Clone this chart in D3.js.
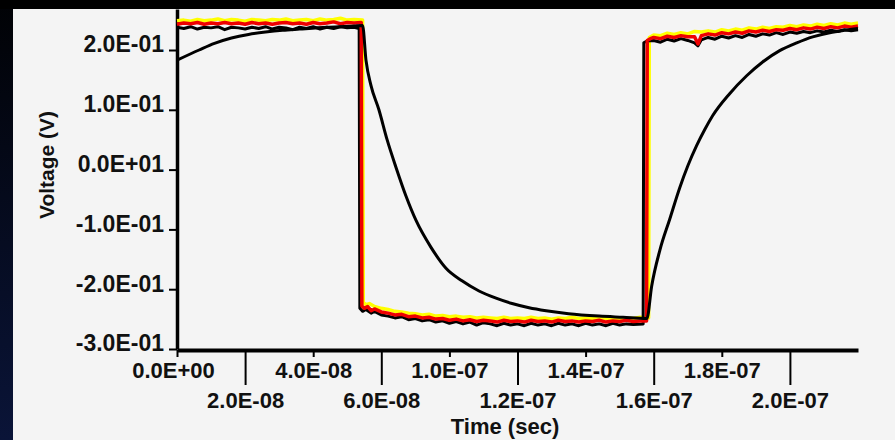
<!DOCTYPE html>
<html>
<head>
<meta charset="utf-8">
<script src="https://cdn.jsdelivr.net/npm/d3@7"></script>
<style>
  body { margin: 0; background: #000; }
  svg { display: block; }
  .axis text { font-family: "Liberation Sans", Arial, Helvetica, sans-serif; fill: #111; }
  .title { font-family: "Liberation Sans", Arial, Helvetica, sans-serif; fill: #111; }
</style>
</head>
<body>
<script>
// time in ns, voltage in V

// x ticks: every 20 ns, labels copied as printed on the chart
var xTicks = [0, 20, 40, 60, 80, 100, 120, 140, 160, 180]
var xTickLabels = ["0.0E+00", "2.0E-08", "4.0E-08", "6.0E-08", "1.0E-07",
                   "1.2E-07", "1.4E-07", "1.6E-07", "1.8E-07", "2.0E-07"]

var yTicks = [0.2, 0.1, 0.0, -0.1, -0.2, -0.3]
var yTickLabels = ["2.0E-01", "1.0E-01", "0.0E+01", "-1.0E-01", "-2.0E-01", "-3.0E-01"]

// smooth RC response (black)
var rcTrace = [[0,0.183],[6.5,0.2],[11,0.211],[16,0.22],[21,0.226],[26,0.23],[31,0.233],[36,0.235],
  [44,0.238],[52,0.24],[54.5,0.241],[55.5,0.183],[57,0.14],[59.3,0.1],[61.7,0.05],[64.3,0.004],
  [67.3,-0.045],[70.2,-0.085],[74.6,-0.13],[79,-0.165],[83.7,-0.186],[88.7,-0.203],[93.7,-0.215],
  [98.4,-0.224],[103.4,-0.231],[108.4,-0.236],[115,-0.241],[124,-0.245],[131,-0.247],[138,-0.249],
  [139.4,-0.195],[141.8,-0.135],[144.7,-0.083],[147.6,-0.031],[150,0.006],[152.6,0.04],[155,0.067],
  [157.3,0.09],[162.3,0.127],[167.3,0.157],[172,0.18],[177,0.199],[182,0.212],[186.7,0.222],
  [191.7,0.229],[196,0.233],[200,0.236]]

// measured square wave, yellow trace
var yellowTrace = [[0,0.249],[2,0.25],[4,0.248],[6,0.251],[8,0.249],[10,0.25],[12,0.252],[14,0.249],
  [16,0.251],[18,0.25],[20,0.248],[22,0.251],[24,0.25],[26,0.249],[28,0.251],[30,0.25],[32,0.252],
  [34,0.249],[36,0.25],[38,0.251],[40,0.249],[42,0.252],[44,0.25],[46,0.251],[48,0.253],[50,0.25],
  [52,0.251],[54.5,0.25],
  [54.7,-0.222],[55.5,-0.226],[56.5,-0.224],[58,-0.229],[60,-0.232],[62,-0.234],[64,-0.237],[66,-0.238],
  [68,-0.24],[70,-0.241],[72,-0.243],[74,-0.242],[76,-0.245],[78,-0.244],[80,-0.246],[82,-0.245],
  [84,-0.247],[86,-0.246],[88,-0.248],[90,-0.247],[92,-0.248],[94,-0.249],[96,-0.247],[98,-0.249],
  [100,-0.248],[102,-0.249],[104,-0.247],[106,-0.249],[108,-0.248],[110,-0.25],[112,-0.248],[114,-0.249],
  [116,-0.247],[118,-0.249],[120,-0.248],[122,-0.249],[124,-0.247],[126,-0.249],[128,-0.248],[130,-0.25],
  [132,-0.248],[134,-0.249],[136,-0.247],[138.5,-0.248],
  [138.7,0.221],[140,0.225],[142,0.224],[144,0.228],[146,0.226],[148,0.229],[150,0.227],[152,0.231],
  [154,0.23],[156,0.232],[158,0.23],[160,0.234],[162,0.232],[164,0.235],[166,0.233],[168,0.237],
  [170,0.235],[172,0.238],[174,0.236],[176,0.239],[178,0.238],[180,0.241],[182,0.239],[184,0.242],
  [186,0.24],[188,0.243],[190,0.241],[192,0.244],[194,0.242],[196,0.245],[198,0.243],[200,0.245]]

// measured square wave, black trace
var blackTrace = [[0,0.238],[2,0.236],[4,0.239],[6,0.235],[8,0.238],[10,0.237],[12,0.239],[14,0.234],
  [16,0.238],[18,0.237],[20,0.235],[22,0.238],[24,0.236],[26,0.239],[28,0.235],[30,0.238],[32,0.237],
  [34,0.234],[36,0.238],[38,0.236],[40,0.239],[42,0.235],[44,0.238],[46,0.236],[48,0.239],[50,0.237],
  [52,0.238],[53.5,0.236],
  [53.7,-0.232],[54.5,-0.237],[55.5,-0.234],[57,-0.24],[58,-0.237],[60,-0.243],[62,-0.245],[64,-0.248],
  [66,-0.246],[68,-0.251],[70,-0.249],[72,-0.253],[74,-0.251],[76,-0.255],[78,-0.253],[80,-0.257],
  [82,-0.254],[84,-0.258],[86,-0.255],[88,-0.26],[90,-0.256],[92,-0.258],[94,-0.261],[96,-0.257],
  [98,-0.26],[100,-0.258],[102,-0.261],[104,-0.257],[106,-0.26],[108,-0.258],[110,-0.261],[112,-0.257],
  [114,-0.26],[116,-0.258],[118,-0.261],[120,-0.257],[122,-0.26],[124,-0.258],[126,-0.261],[128,-0.257],
  [130,-0.26],[132,-0.258],[134,-0.259],[136.9,-0.258],
  [137.1,0.212],[138,0.215],[140,0.216],[142,0.213],[144,0.218],[146,0.215],[148,0.219],[150,0.216],
  [152,0.212],[153,0.207],[154,0.217],[156,0.221],[158,0.218],[160,0.223],[162,0.22],[164,0.224],
  [166,0.221],[168,0.226],[170,0.223],[172,0.227],[174,0.225],[176,0.229],[178,0.226],[180,0.23],
  [182,0.228],[184,0.231],[186,0.229],[188,0.232],[190,0.23],[192,0.233],[194,0.231],[196,0.234],
  [198,0.232],[200,0.234]]

// measured square wave, red trace
var redTrace = [[0,0.243],[2,0.245],[4,0.244],[6,0.246],[8,0.243],[10,0.245],[12,0.244],[14,0.246],
  [16,0.244],[18,0.245],[20,0.243],[22,0.246],[24,0.244],[26,0.245],[28,0.243],[30,0.245],[32,0.246],
  [34,0.244],[36,0.245],[38,0.243],[40,0.246],[42,0.244],[44,0.245],[46,0.247],[48,0.244],[50,0.246],
  [52,0.245],[54.1,0.246],
  [54.3,-0.228],[55,-0.232],[56,-0.229],[57,-0.236],[58,-0.233],[60,-0.238],[62,-0.24],[64,-0.243],
  [66,-0.242],[68,-0.246],[70,-0.245],[72,-0.248],[74,-0.247],[76,-0.25],[78,-0.249],[80,-0.252],
  [82,-0.25],[84,-0.253],[86,-0.251],[88,-0.254],[90,-0.252],[92,-0.253],[94,-0.255],[96,-0.252],
  [98,-0.254],[100,-0.253],[102,-0.255],[104,-0.252],[106,-0.254],[108,-0.253],[110,-0.255],[112,-0.252],
  [114,-0.254],[116,-0.253],[118,-0.255],[120,-0.253],[122,-0.254],[124,-0.252],[126,-0.255],[128,-0.253],
  [130,-0.254],[132,-0.252],[134,-0.254],[136,-0.253],[137.9,-0.253],
  [138.1,0.216],[139,0.219],[140,0.221],[142,0.219],[144,0.223],[146,0.221],[148,0.224],[150,0.222],
  [152,0.222],[153,0.21],[154,0.224],[156,0.227],[158,0.225],[160,0.229],[162,0.227],[164,0.23],
  [166,0.228],[168,0.232],[170,0.23],[172,0.233],[174,0.231],[176,0.234],[178,0.233],[180,0.236],
  [182,0.234],[184,0.237],[186,0.235],[188,0.238],[190,0.236],[192,0.239],[194,0.237],[196,0.24],
  [198,0.238],[200,0.24]]

var WIDTH = 895
var HEIGHT = 440
var PANEL_LEFT = 13
var PANEL_TOP = 9
var X0 = 177, X1 = 858
var Y_BOTTOM = 349, Y_TOP = 9
var AXIS_Y = 350

window.onload = function() {
  drawChart()
}

function drawChart()
{
  var svg = d3.select("body").append("svg")
      .attr("width", WIDTH).attr("height", HEIGHT)

  // slide background
  var defs = svg.append("defs")
  var grad = defs.append("linearGradient").attr("id", "slide")
      .attr("x1", 0).attr("y1", 0).attr("x2", 0).attr("y2", 1)
  grad.append("stop").attr("offset", "0%").attr("stop-color", "#010205")
  grad.append("stop").attr("offset", "100%").attr("stop-color", "#0a1438")
  svg.append("rect").attr("width", WIDTH).attr("height", HEIGHT).attr("fill", "url(#slide)")
  svg.append("rect").attr("width", WIDTH).attr("height", PANEL_TOP).attr("fill", "#000")
  svg.append("rect").attr("x", PANEL_LEFT).attr("y", PANEL_TOP)
      .attr("width", WIDTH - PANEL_LEFT).attr("height", HEIGHT - PANEL_TOP)
      .attr("fill", "#f4f4f4")

  var x = d3.scaleLinear().domain([0, 200]).range([X0, X1])
  var y = d3.scaleLinear().domain([-0.3, -0.3 + (Y_BOTTOM - Y_TOP) / 598]).range([Y_BOTTOM, Y_TOP])

  // y axis
  var yAxis = svg.append("g").attr("class", "axis")
      .attr("transform", "translate(" + X0 + ",0)")
      .call(d3.axisLeft(y).tickValues(yTicks)
        .tickFormat(function(d, i) { return yTickLabels[i] })
        .tickSize(8).tickPadding(5).tickSizeOuter(0))
  yAxis.select(".domain").attr("stroke", "#000").attr("stroke-width", 3.5)
  yAxis.selectAll(".tick line").attr("stroke", "#000").attr("stroke-width", 2)
  yAxis.selectAll(".tick text").attr("dy", "0.08em")
      .style("font-size", "23px").style("font-weight", "bold")

  // x axis with alternating label rows
  var xAxis = svg.append("g").attr("class", "axis")
      .attr("transform", "translate(0," + AXIS_Y + ")")
      .call(d3.axisBottom(x).tickValues(xTicks)
        .tickFormat(function(d, i) { return xTickLabels[i] })
        .tickSize(7).tickSizeOuter(0))
  xAxis.select(".domain").attr("stroke", "#000").attr("stroke-width", 4)
  xAxis.selectAll(".tick line").attr("stroke", "#000").attr("stroke-width", 2)
      .attr("y2", function(d, i) { return i % 2 ? 35 : 7 })
  xAxis.selectAll(".tick text")
      .attr("x", function(d, i) { return i === 0 ? -4 : 0 })
      .attr("y", function(d, i) { return i % 2 ? 58 : 28 })
      .attr("dy", 0)
      .style("font-size", "22px").style("font-weight", "bold")

  // axis titles
  svg.append("text").attr("class", "title")
      .attr("x", 505).attr("y", 434)
      .attr("text-anchor", "middle")
      .style("font-size", "22px").style("font-weight", "bold")
      .text("Time (sec)")
  svg.append("text").attr("class", "title")
      .attr("transform", "translate(54,165)rotate(-90)")
      .attr("text-anchor", "middle")
      .style("font-size", "21px").style("font-weight", "bold")
      .text("Voltage (V)")

  var line = d3.line()
      .x(function(d) { return x(d[0]) })
      .y(function(d) { return y(d[1]) })
  var smooth = d3.line()
      .x(function(d) { return x(d[0]) })
      .y(function(d) { return y(d[1]) })
      .curve(d3.curveMonotoneX)

  var traces = [
    {data: yellowTrace, color: "#ffff00", width: 3.5},
    {data: blackTrace, color: "#000000", width: 3},
    {data: redTrace, color: "#ee0000", width: 3.5}
  ]
  traces.forEach(function(t)
  {
    svg.append("path").datum(t.data)
        .attr("d", line)
        .attr("fill", "none")
        .attr("stroke", t.color)
        .attr("stroke-width", t.width)
        .attr("stroke-linejoin", "round")
  })

  svg.append("path").datum(rcTrace)
      .attr("d", smooth)
      .attr("fill", "none")
      .attr("stroke", "#000")
      .attr("stroke-width", 3)
}
</script>
</body>
</html>
